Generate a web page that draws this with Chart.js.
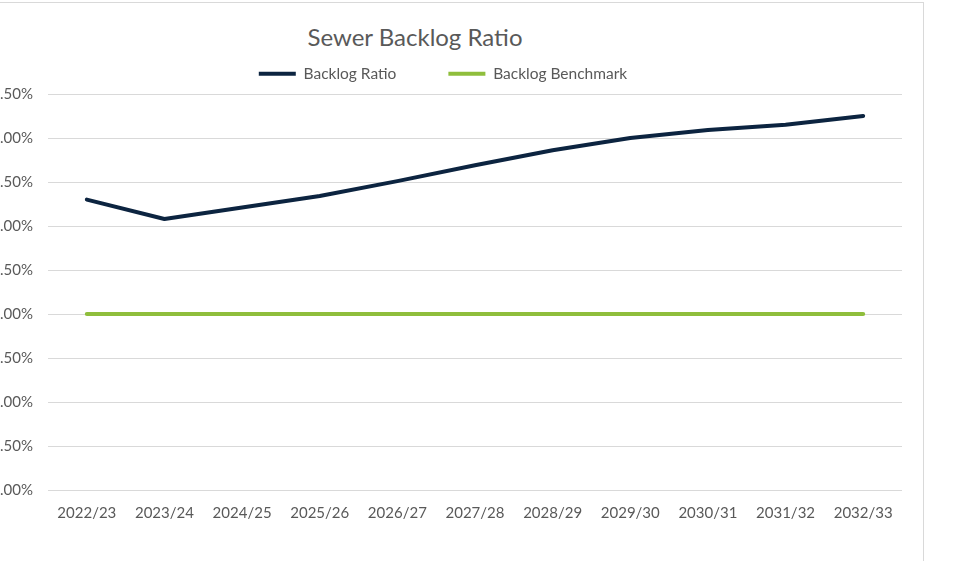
<!DOCTYPE html>
<html>
<head>
<meta charset="utf-8">
<script src="https://cdn.jsdelivr.net/npm/chart.js@4.4.1/dist/chart.umd.min.js"></script>
<style>
  html, body { margin:0; padding:0; background:#fff; overflow:hidden; width:962px; height:561px; }
  #frame { position:absolute; left:-80px; top:2px; width:1004px; height:620px; border:1px solid #d9d9d9; box-sizing:border-box; }
  #title { position:absolute; left:0; top:23px; width:830px; text-align:center; font:24px Lato, sans-serif; line-height:28px; color:#595959; }
  #wrap { position:absolute; left:-16px; top:14px; width:938px; height:526px; }
</style>
</head>
<body>
<div id="frame"></div>
<div id="title">Sewer Backlog Ratio</div>
<div id="wrap"><canvas id="chart"></canvas></div>
<script>
// Sewer backlog ratio vs benchmark, values in %
const years = ['2022/23','2023/24','2024/25','2025/26','2026/27','2027/28','2028/29','2029/30','2030/31','2031/32','2032/33'];
const backlogRatio = [3.30, 3.08, 3.21, 3.34, 3.51, 3.69, 3.86, 4.00, 4.09, 4.15, 4.25];
const backlogBenchmark = [2.00, 2.00, 2.00, 2.00, 2.00, 2.00, 2.00, 2.00, 2.00, 2.00, 2.00];
const yMin = 0, yMax = 4.5, yStep = 0.5;

Chart.defaults.font.family = 'Lato, sans-serif';
Chart.defaults.color = '#595959';

// a bit more room under the legend
const legendGap = {
  id: 'legendGap',
  beforeInit(chart){
    const fit = chart.legend.fit;
    chart.legend.fit = function(){ fit.call(this); this.height += 2.5; };
  }
};

function line(label, data, color){
  return {
    label, data,
    borderColor: color, backgroundColor: color,
    borderWidth: 4, pointRadius: 0, tension: 0,
    borderCapStyle: 'round', borderJoinStyle: 'round'
  };
}

new Chart(document.getElementById('chart').getContext('2d'), {
  type: 'line',
  data: {
    labels: years,
    datasets: [
      line('Backlog Ratio', backlogRatio, '#0c2440'),
      line('Backlog Benchmark', backlogBenchmark, '#8fbe3c')
    ]
  },
  options: {
    responsive: true, maintainAspectRatio: false, animation: false,
    layout: { padding: { left: 0, right: 20, top: 0, bottom: 10 } },
    plugins: {
      title: { display: false },
      tooltip: { enabled: false },
      legend: {
        position: 'top',
        labels: {
          usePointStyle: true, pointStyle: 'line', pointStyleWidth: 37,
          padding: 52, font: { size: 15.5 }, color: '#595959'
        }
      }
    },
    scales: {
      x: {
        offset: true,
        grid: { display: false, drawTicks: false },
        border: { display: false },
        ticks: { padding: 14, font: { size: 15 }, maxRotation: 0, autoSkip: false },
        afterFit(scale){ scale.height = 40; }
      },
      y: {
        min: yMin, max: yMax,
        grid: { color: '#d9d9d9', lineWidth: 1, drawTicks: false },
        border: { display: false },
        ticks: { stepSize: yStep, padding: 15, font: { size: 15 }, callback: v => v.toFixed(2) + '%' },
        afterFit(scale){ scale.width = 64; }
      }
    }
  },
  plugins: [legendGap]
});
</script>
</body>
</html>
